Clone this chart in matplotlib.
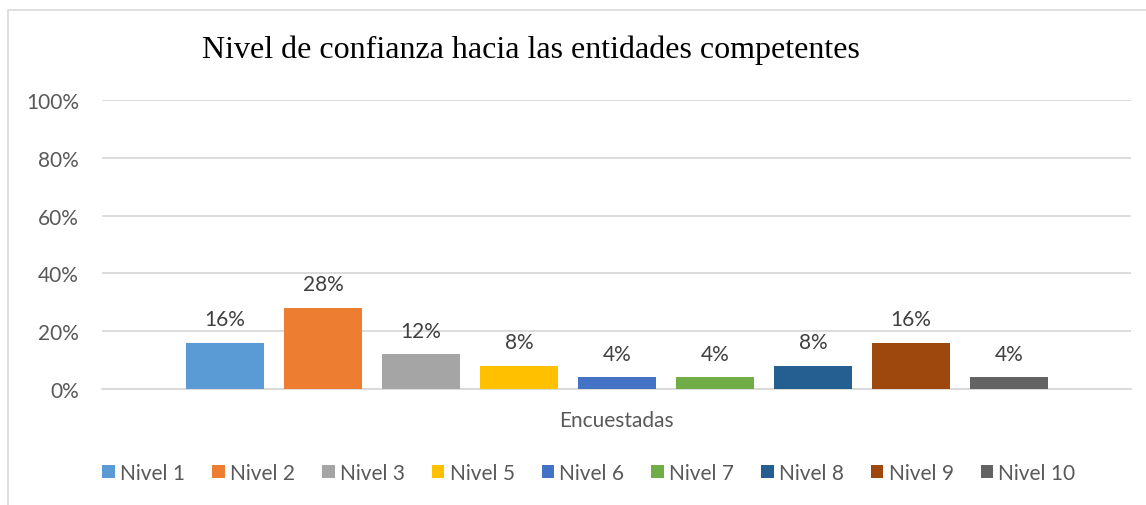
import matplotlib
matplotlib.use("Agg")
import matplotlib.pyplot as plt
from matplotlib.patches import Rectangle, Patch
from matplotlib.ticker import FuncFormatter

title = "Nivel de confianza hacia las entidades competentes"
category = "Encuestadas"
series = ["Nivel 1", "Nivel 2", "Nivel 3", "Nivel 5", "Nivel 6", "Nivel 7", "Nivel 8", "Nivel 9", "Nivel 10"]
values = [16, 28, 12, 8, 4, 4, 8, 16, 4]
colors = ["#5B9BD5", "#ED7D31", "#A5A5A5", "#FFC000", "#4472C4", "#70AD47", "#255E91", "#9E480E", "#636363"]
yticks = [0, 20, 40, 60, 80, 100]

sans = ["Lato", "DejaVu Sans"]
fs = 15
fig = plt.figure(figsize=(11.46, 5.06), dpi=100)
fig.patches.append(Rectangle((8/1146, -0.1), 1.2, 1 - 11/506 + 0.1, transform=fig.transFigure,
                             fill=False, edgecolor="#D9D9D9", linewidth=1.2))
ax = fig.add_axes([102/1146, 1 - 390/506, (1131 - 102)/1146, (390 - 101)/506])

width = 78/98
xs = list(range(len(values)))
for x, v, c, s in zip(xs, values, colors, series):
    ax.bar(x, v, width=width, color=c, label=s, zorder=3)
    ax.annotate(f"{v}%", (x, v), xytext=(0, 17), textcoords="offset points",
                ha="center", va="center", fontsize=fs, color="#404040", family=sans)

ax.set_xlim(-1.255, 9.245)
ax.set_ylim(0, 100)
ax.set_yticks(yticks)
ax.yaxis.set_major_formatter(FuncFormatter(lambda v, p: f"{int(v)}%"))
ax.tick_params(axis="y", length=0, pad=16.5, labelsize=fs, labelcolor="#595959")
for lab in ax.get_yticklabels():
    lab.set_family(sans)
ax.set_xticks([])
ax.grid(axis="y", color="#D9D9D9", linewidth=1.3, zorder=0)
for sp in ["top", "right", "left"]:
    ax.spines[sp].set_visible(False)
ax.spines["bottom"].set_color("#D9D9D9")
ax.spines["bottom"].set_linewidth(1.3)

fig.text(616/1146, 1 - 421/506, category, ha="center", va="center", fontsize=fs, color="#595959", family=sans)
fig.text(531/1146, 1 - 50/506, title, ha="center", va="center", fontsize=23, color="black",
         family=["Liberation Serif", "DejaVu Serif"])

handles = [Patch(facecolor=c, edgecolor="none") for c in colors]
leg = fig.legend(handles, series, loc="center", bbox_to_anchor=(589/1146, 1 - 474/506), ncol=9,
                 frameon=False, handlelength=0.6, handleheight=0.6, handletextpad=0.25,
                 columnspacing=1.3, prop={"family": sans, "size": fs})
for t in leg.get_texts():
    t.set_color("#595959")

fig.savefig("out.png", dpi=100)
